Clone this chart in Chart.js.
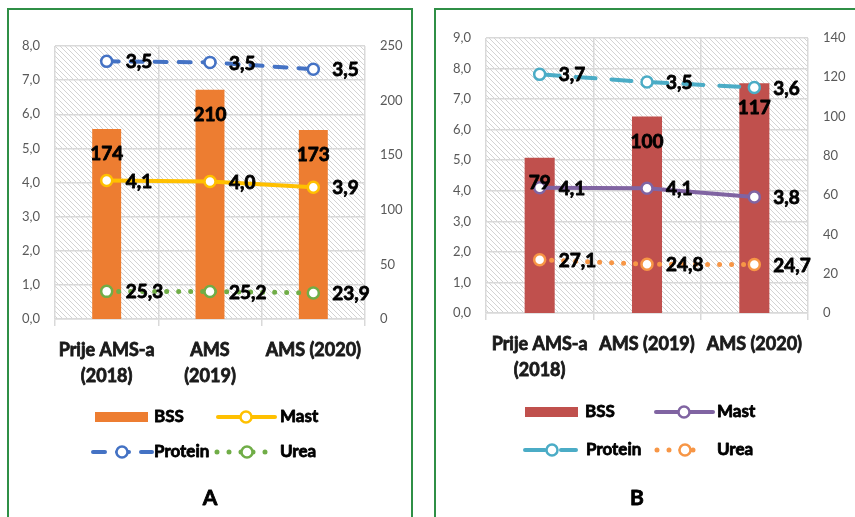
<!DOCTYPE html>
<html>
<head>
<meta charset="utf-8">
<script src="https://cdn.jsdelivr.net/npm/chart.js@4.4.1/dist/chart.umd.min.js"></script>
<style>
  html, body { margin: 0; padding: 0; background: #fff; }
  body { width: 855px; height: 517px; position: relative; overflow: hidden; }
  .frame { position: absolute; box-sizing: border-box; border: 2px solid #2f8f46; }
  canvas { position: absolute; }
</style>
</head>
<body>
<div class="frame" style="left:7px;top:8px;width:406px;height:520px;"></div>
<div class="frame" style="left:434px;top:8px;width:430px;height:520px;"></div>
<canvas id="chartA" width="405" height="508" style="left:8px;top:9px;"></canvas>
<canvas id="chartB" width="420" height="508" style="left:435px;top:9px;"></canvas>
<script>
// ---- Panel A data ----
const categoriesA = [['Prije AMS-a', '(2018)'], ['AMS', '(2019)'], 'AMS (2020)'];
const bssA     = [174, 210, 173];
const mastA    = [4.06, 4.03, 3.86];
const proteinA = [3.49, 3.49, 3.46];
const ureaA    = [25.3, 25.2, 23.9];

// ---- Panel B data ----
const categoriesB = [['Prije AMS-a', '(2018)'], 'AMS (2019)', 'AMS (2020)'];
const bssB     = [79, 100, 117];
const mastB    = [4.10, 4.08, 3.80];
const proteinB = [3.71, 3.48, 3.58];
const ureaB    = [27.1, 24.8, 24.7];

// ---- Axis tick settings ----
const leftMaxA = 8,  leftStepA = 1,  rightMaxA = 250, rightStepA = 50;
const leftMaxB = 9,  leftStepB = 1,  rightMaxB = 140, rightStepB = 20;

const FONT = 'Lato, "Open Sans", sans-serif';
const HEAVY_STROKE = 0.8;   // extra stroke to thicken bold text
const comma1 = v => Number(v).toFixed(1).replace('.', ',');

// diagonal hatch used as the plot-area fill
function hatchPattern(ctx) {
  const s = 5;
  const tile = document.createElement('canvas');
  tile.width = s; tile.height = s;
  const t = tile.getContext('2d');
  t.fillStyle = '#ffffff';
  t.fillRect(0, 0, s, s);
  t.strokeStyle = '#d3d3d3';
  t.lineWidth = 1;
  t.beginPath();
  t.moveTo(-1, -1); t.lineTo(s + 1, s + 1);
  t.moveTo(-1, s - 1); t.lineTo(1, s + 1);
  t.moveTo(s - 1, -1); t.lineTo(s + 1, 1);
  t.stroke();
  return ctx.createPattern(tile, 'repeat');
}

function heavyText(ctx, text, x, y) {
  ctx.lineWidth = HEAVY_STROKE;
  ctx.strokeStyle = ctx.fillStyle;
  ctx.lineJoin = 'round';
  ctx.strokeText(text, x, y);
  ctx.fillText(text, x, y);
}

const plotBackground = {
  id: 'plotBackground',
  beforeDraw(chart) {
    const { ctx, chartArea: a } = chart;
    ctx.save();
    ctx.fillStyle = hatchPattern(ctx);
    ctx.fillRect(a.left, a.top, a.right - a.left, a.bottom - a.top);
    ctx.restore();
  }
};

// value labels: bars get theirs inside the top end, lines to the right of each point
const valueLabels = {
  id: 'valueLabels',
  afterDatasetsDraw(chart) {
    const ctx = chart.ctx;
    ctx.save();
    ctx.font = 'bold 19px ' + FONT;
    ctx.fillStyle = '#000';
    ctx.setLineDash([]);
    chart.data.datasets.forEach((ds, di) => {
      const meta = chart.getDatasetMeta(di);
      meta.data.forEach((el, i) => {
        const v = ds.data[i];
        ctx.textBaseline = 'middle';
        if (ds.type === 'bar') {
          ctx.textAlign = 'center';
          heavyText(ctx, String(Math.round(v)), el.x, el.y + 25);
        } else {
          ctx.textAlign = 'left';
          heavyText(ctx, comma1(v), el.x + 19, el.y + 1);
        }
      });
    });
    ctx.restore();
  }
};

// two-row legend plus the panel letter beneath it
const panelLegend = {
  id: 'panelLegend',
  afterDraw(chart) {
    const opt = chart.options.plugins.panelLegend;
    const ctx = chart.ctx;
    const dss = chart.data.datasets;
    ctx.save();
    ctx.font = 'bold 17px ' + FONT;
    ctx.textBaseline = 'middle';
    ctx.textAlign = 'left';
    opt.items.forEach(it => {
      const ds = dss[it.dataset];
      if (ds.type === 'bar') {
        ctx.fillStyle = ds.backgroundColor;
        ctx.fillRect(it.x1, it.y - 5, it.x2 - it.x1, 10);
      } else {
        ctx.strokeStyle = ds.borderColor;
        ctx.lineWidth = ds.borderWidth;
        ctx.lineCap = ds.borderCapStyle || 'butt';
        ctx.setLineDash(ds.borderDash || []);
        ctx.beginPath();
        ctx.moveTo(it.x1, it.y);
        ctx.lineTo(it.x2, it.y);
        ctx.stroke();
        ctx.setLineDash([]);
        ctx.beginPath();
        ctx.arc(it.mx, it.y, ds.pointRadius, 0, Math.PI * 2);
        ctx.fillStyle = '#fff';
        ctx.fill();
        ctx.lineWidth = ds.pointBorderWidth;
        ctx.strokeStyle = ds.pointBorderColor;
        ctx.stroke();
      }
      ctx.fillStyle = '#000';
      heavyText(ctx, ds.label, it.tx, it.y);
    });
    ctx.font = 'bold 21px ' + FONT;
    ctx.textAlign = 'center';
    ctx.fillStyle = '#000';
    heavyText(ctx, opt.letter, opt.letterX, opt.letterY);
    ctx.restore();
  }
};

function buildChart(id, geo, cats, bss, mast, protein, urea, colors, axes, legend) {
  const W = geo.width, H = geo.height;
  const datasets = [
    { type: 'bar', label: 'BSS', data: bss, yAxisID: 'y1', order: 10,
      backgroundColor: colors.bss, categoryPercentage: 1, barPercentage: geo.barPct },
    { type: 'line', label: 'Mast', data: mast, yAxisID: 'y', order: 2,
      borderColor: colors.mast, borderWidth: 4, borderCapStyle: 'round',
      pointRadius: 5.5, pointBorderWidth: 2.5, pointBackgroundColor: '#fff', pointBorderColor: colors.mast },
    { type: 'line', label: 'Protein', data: protein, yAxisID: 'y', order: 2,
      borderColor: colors.protein, borderWidth: 4, borderCapStyle: 'round', borderDash: colors.proteinDash,
      pointRadius: 5.5, pointBorderWidth: 2.5, pointBackgroundColor: '#fff', pointBorderColor: colors.protein },
    { type: 'line', label: 'Urea', data: urea, yAxisID: 'y1', order: 1,
      borderColor: colors.urea, borderWidth: 5, borderCapStyle: 'round', borderDash: [0, 12],
      pointRadius: 5.5, pointBorderWidth: 2.5, pointBackgroundColor: '#fff', pointBorderColor: colors.urea }
  ];
  return new Chart(document.getElementById(id), {
    data: { labels: cats, datasets },
    options: {
      responsive: false,
      animation: false,
      layout: { padding: { top: geo.top, left: 0, right: 0, bottom: 0 } },
      plugins: { legend: { display: false }, tooltip: { enabled: false }, panelLegend: legend },
      elements: { line: { tension: 0 } },
      scales: {
        x: {
          offset: true,
          grid: { offset: true, color: '#d9d9d9', lineWidth: 1.5, drawTicks: true, tickLength: 7 },
          border: { display: true, color: '#d9d9d9', width: 1.5 },
          ticks: { autoSkip: false, maxRotation: 0, padding: geo.xPad, color: '#1a1a1a',
                   textStrokeColor: '#1a1a1a', textStrokeWidth: HEAVY_STROKE,
                   font: { family: FONT, size: 18, weight: 'bold', lineHeight: 1.4 } },
          afterFit: s => { s.height = H - geo.bottom; }
        },
        y: {
          position: 'left', stacked: true, min: 0, max: axes.leftMax,
          grid: { color: '#d9d9d9', lineWidth: 1.5, drawTicks: false },
          border: { display: false },
          ticks: { stepSize: axes.leftStep, padding: 15, color: '#595959',
                   font: { family: FONT, size: 13 }, callback: v => comma1(v) },
          afterFit: s => { s.width = geo.left; }
        },
        y1: {
          position: 'right', stacked: false, min: 0, max: axes.rightMax,
          grid: { display: false, drawTicks: false },
          border: { display: false },
          ticks: { stepSize: axes.rightStep, padding: 15, color: '#595959',
                   font: { family: FONT, size: 13 } },
          afterFit: s => { s.width = W - geo.right; }
        }
      }
    },
    plugins: [plotBackground, valueLabels, panelLegend]
  });
}

buildChart('chartA',
  { width: 405, height: 508, left: 47, right: 357, top: 37, bottom: 310, barPct: 0.28, xPad: 12 },
  categoriesA, bssA, mastA, proteinA, ureaA,
  { bss: '#ED7D31', mast: '#FFC000', protein: '#4472C4', urea: '#70AD47', proteinDash: [12, 12] },
  { leftMax: leftMaxA, leftStep: leftStepA, rightMax: rightMaxA, rightStep: rightStepA },
  { letter: 'A', letterX: 202, letterY: 489,
    items: [
      { dataset: 0, x1: 87,  x2: 140, y: 408, tx: 146 },
      { dataset: 1, x1: 210, x2: 267, mx: 238, y: 408, tx: 272 },
      { dataset: 2, x1: 85,  x2: 144, mx: 114, y: 443, tx: 146 },
      { dataset: 3, x1: 209, x2: 263, mx: 239, y: 443, tx: 272 }
    ] });

buildChart('chartB',
  { width: 420, height: 508, left: 51, right: 373, top: 29, bottom: 304, barPct: 0.28, xPad: 12 },
  categoriesB, bssB, mastB, proteinB, ureaB,
  { bss: '#C0504D', mast: '#8064A2', protein: '#4BACC6', urea: '#F79646', proteinDash: [20, 16] },
  { leftMax: leftMaxB, leftStep: leftStepB, rightMax: rightMaxB, rightStep: rightStepB },
  { letter: 'B', letterX: 202, letterY: 489,
    items: [
      { dataset: 0, x1: 90,  x2: 143, y: 403, tx: 150 },
      { dataset: 1, x1: 221, x2: 278, mx: 249, y: 403, tx: 282 },
      { dataset: 2, x1: 90,  x2: 141, mx: 117, y: 441, tx: 151 },
      { dataset: 3, x1: 222, x2: 267, mx: 250, y: 441, tx: 282 }
    ] });
</script>
</body>
</html>
